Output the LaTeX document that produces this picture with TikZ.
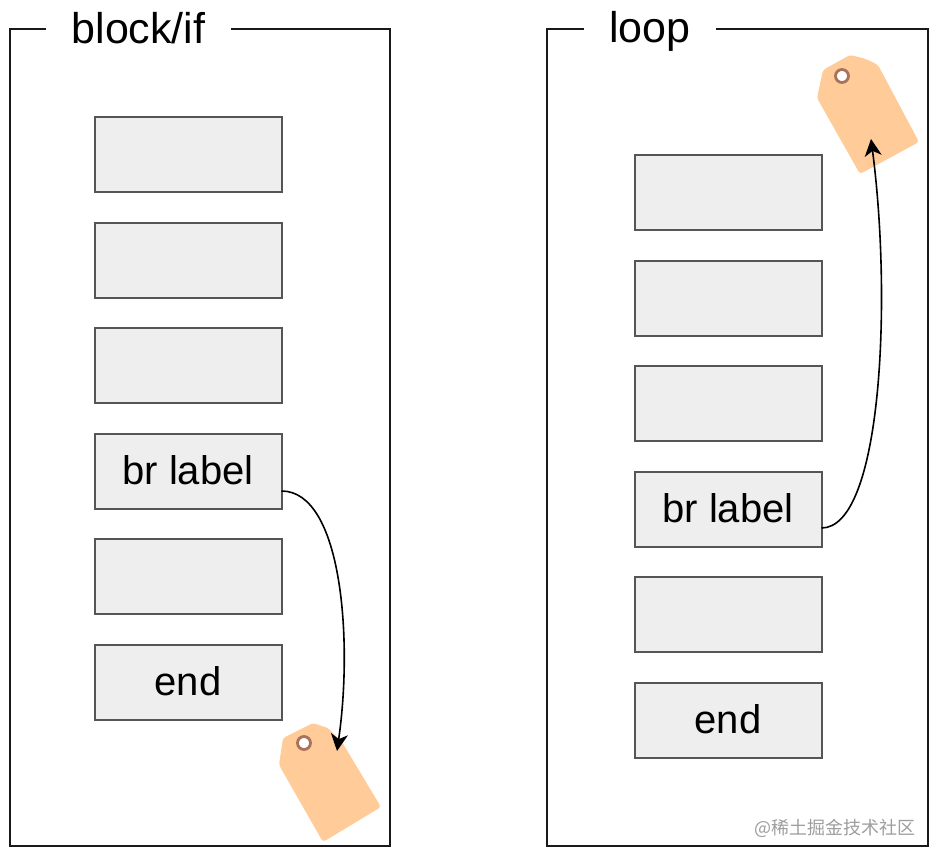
\documentclass[tikz,border=0pt]{standalone}
\usepackage{fontspec}
\setmainfont{Liberation Sans}
\newfontfamily\cjkfont{Noto Sans CJK SC}
\usetikzlibrary{arrows.meta}
\definecolor{boxfill}{HTML}{EEEEEE}
\definecolor{boxline}{HTML}{555555}
\definecolor{tagfill}{HTML}{FFCC99}
\definecolor{ringcol}{HTML}{A9725A}
\tikzset{
  x=1pt,y=-1pt,
  frame/.style={draw=black!90,line width=1.6pt,fill=white},
  titlelabel/.style={fill=white,inner sep=0pt,minimum height=40pt,font=\fontsize{43}{43}\selectfont},
  cell/.style={draw=boxline,line width=2pt,fill=boxfill,minimum width=187pt,minimum height=75pt,inner sep=0pt,outer sep=0pt,text depth=2pt,font=\fontsize{40}{40}\selectfont,anchor=center},
  jump/.style={draw=black,line width=1.6pt,-{Stealth[length=17pt,width=17pt,inset=5pt]}},
  tagshape/.style={fill=tagfill},
  ringshape/.style={draw=ringcol,line width=2.8pt,fill=white},
}
\begin{document}
\begin{tikzpicture}
\useasboundingbox (0,0) rectangle (938,862);
\fill[white] (0,0) rectangle (938,862);
% frames
\draw[frame] (10,29) rectangle (390,846);
\draw[frame] (547,29) rectangle (928,846);
\node[titlelabel,text width=185pt,align=center] (titleA) at (138.5,28) {block/if};
\node[titlelabel,text width=132pt,align=center] (titleB) at (650,31) {loop};
% left column
\node[cell] (a1) at (188,154) {};
\node[cell] (a2) at (188,260) {};
\node[cell] (a3) at (188,365) {};
\node[cell] (a4) at (188,471) {br label};
\node[cell] (a5) at (188,576) {};
\node[cell] (a6) at (188,682) {end};
% right column
\node[cell] (b1) at (728,192) {};
\node[cell] (b2) at (728,298) {};
\node[cell] (b3) at (728,403) {};
\node[cell] (b4) at (728,509) {br label};
\node[cell] (b5) at (728,614) {};
\node[cell] (b6) at (728,720) {end};
% tags
\fill[tagshape,rounded corners=3pt] (313,723) -- (328,728) -- (342,742) -- (381,807) -- (323,842) -- (279,765) -- (283,738) -- cycle;
\draw[ringshape] (304,743) circle (6.5);
\fill[tagshape,rounded corners=3pt] (850,55) -- (866,59) -- (878,65) -- (919,142) -- (860,174) -- (817,98) -- (823,70) -- cycle;
\draw[ringshape] (842,76) circle (6.5);
\coordinate (tagA) at (337,751);
\coordinate (tagB) at (871,139);
% connectors
\draw[jump] ([yshift=-20pt]a4.east) .. controls (342,491) and (353,640) .. (tagA);
\draw[jump] ([yshift=-19pt]b4.east) .. controls (882,528) and (892,300) .. (tagB);
% watermark
\node[anchor=east,inner sep=0pt,text=black!38,font=\cjkfont\fontsize{18}{18}\selectfont] (mark) at (916,828) {@稀土掘金技术社区};
\end{tikzpicture}
\end{document}
